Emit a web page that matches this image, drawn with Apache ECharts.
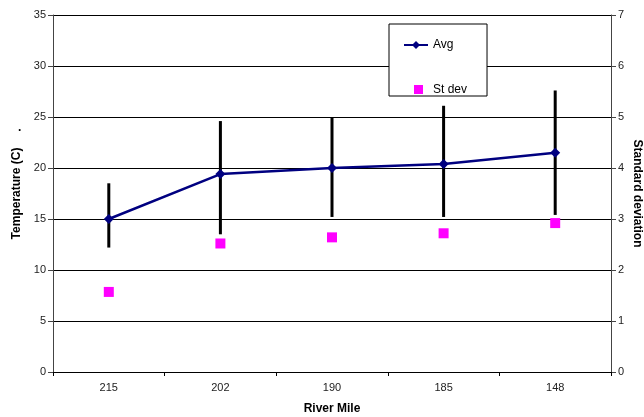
<!DOCTYPE html>
<html>
<head>
<meta charset="utf-8">
<script src="https://cdn.jsdelivr.net/npm/echarts@6/dist/echarts.min.js"></script>
<style>html,body{margin:0;padding:0;background:#fff;}#c{width:644px;height:417px;}</style>
</head>
<body>
<div id="c"></div>
<script>
var categories = ['215', '202', '190', '185', '148'];
var avgTemp = [15.0, 19.4, 20.0, 20.4, 21.5];
var barLow = [12.2, 13.5, 15.2, 15.2, 15.4];
var barHigh = [18.5, 24.6, 25.0, 26.1, 27.6];
var stDev = [1.57, 2.52, 2.64, 2.72, 2.92];

var chart = echarts.init(document.getElementById('c'), null, {renderer: 'canvas'});
var font = 'Liberation Sans, Arial, sans-serif';
var errData = categories.map(function (c, i) { return [i, barLow[i], barHigh[i]]; });

chart.setOption({
  animation: false,
  textStyle: {fontFamily: font},
  grid: {left: 53, right: 33, top: 15, bottom: 45, containLabel: false, outerBoundsMode: 'none'},
  legend: {
    orient: 'vertical',
    left: 389, top: 24,
    backgroundColor: '#fff',
    borderColor: '#000', borderWidth: 1,
    padding: [15, 20, 0, 14],
    itemGap: 33,
    itemWidth: 24, itemHeight: 10,
    itemStyle: {opacity: 1},
    textStyle: {fontFamily: font, fontSize: 12, color: '#000'},
    data: [{name: 'Avg'}, {name: 'St dev', icon: 'path://M10,0h9v9h-9z M0,0 M24,10', itemStyle: {color: '#FF00FF', opacity: 1}}]
  },
  xAxis: {
    type: 'category',
    data: categories,
    name: 'River Mile',
    nameLocation: 'middle',
    nameGap: 31,
    nameMoveOverlap: false,
    nameTextStyle: {fontFamily: font, fontSize: 12, fontWeight: 'bold', color: '#000'},
    axisLine: {lineStyle: {color: '#000', width: 1}},
    axisTick: {show: true, length: 4, lineStyle: {color: '#000'}},
    axisLabel: {fontFamily: font, fontSize: 11, color: '#222', margin: 10}
  },
  yAxis: [{
    type: 'value', min: 0, max: 35, interval: 5,
    name: 'Temperature (C)',
    nameLocation: 'middle', nameGap: 30, nameRotate: 90,
    nameMoveOverlap: false,
    nameTextStyle: {fontFamily: font, fontSize: 12, fontWeight: 'bold', color: '#000'},
    axisLine: {show: true, lineStyle: {color: '#444', width: 1}},
    axisTick: {show: true, length: 5, lineStyle: {color: '#444'}},
    axisLabel: {fontFamily: font, fontSize: 11, color: '#222', margin: 7},
    splitLine: {show: true, lineStyle: {color: '#000', width: 1}}
  }, {
    type: 'value', min: 0, max: 7, interval: 1,
    name: 'Standard deviation',
    nameLocation: 'middle', nameGap: 20, nameRotate: -90,
    nameMoveOverlap: false,
    nameTextStyle: {fontFamily: font, fontSize: 12, fontWeight: 'bold', color: '#000'},
    axisLine: {show: true, lineStyle: {color: '#444', width: 1}},
    axisTick: {show: true, length: 5, lineStyle: {color: '#444'}},
    axisLabel: {fontFamily: font, fontSize: 11, color: '#222', margin: 7},
    splitLine: {show: false}
  }],
  graphic: [{
    type: 'text', left: 18, top: 122,
    style: {text: '.', fill: '#000', font: 'bold 12px ' + font}
  }],
  series: [{
    type: 'custom',
    name: 'err',
    yAxisIndex: 0,
    z: 1,
    renderItem: function (params, api) {
      var x = api.value(0);
      var p1 = api.coord([x, api.value(1)]);
      var p2 = api.coord([x, api.value(2)]);
      return {
        type: 'line',
        shape: {x1: p1[0], y1: p1[1], x2: p2[0], y2: p2[1]},
        style: {stroke: '#000', lineWidth: 3}
      };
    },
    encode: {x: 0, y: [1, 2]},
    data: errData
  }, {
    type: 'line',
    name: 'Avg',
    yAxisIndex: 0,
    z: 3,
    data: avgTemp,
    symbol: 'diamond',
    symbolSize: 10,
    lineStyle: {color: '#000080', width: 2.5},
    itemStyle: {color: '#000080'}
  }, {
    type: 'scatter',
    name: 'St dev',
    yAxisIndex: 1,
    z: 3,
    data: stDev,
    symbol: 'rect',
    symbolSize: 10,
    itemStyle: {color: '#FF00FF', opacity: 1}
  }]
});
</script>
</body>
</html>
